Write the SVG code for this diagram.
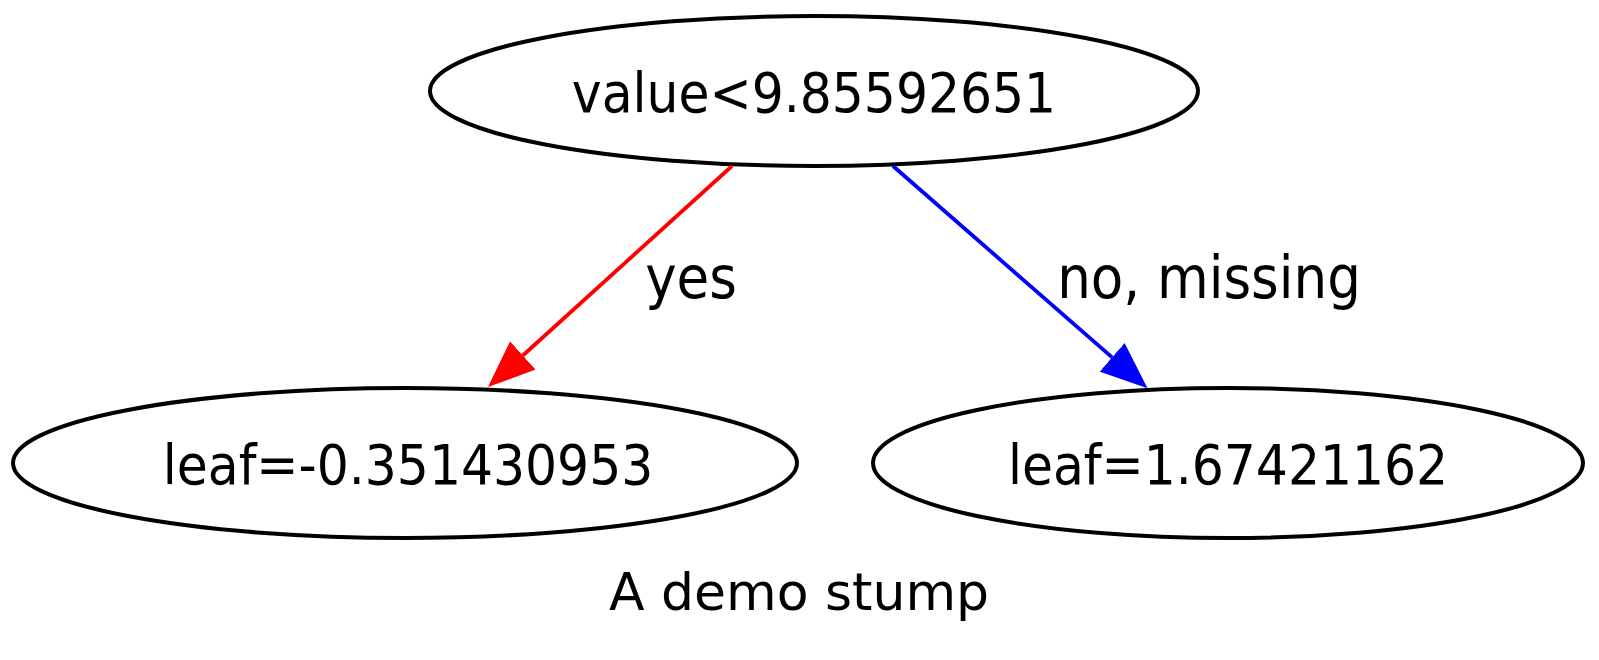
<svg xmlns="http://www.w3.org/2000/svg" width="1599" height="660" viewBox="0 0 1599 660">
<style>
  .node ellipse { fill: none; stroke: #000; stroke-width: 4; }
  .node text { font-family: "DejaVu Sans Condensed", "DejaVu Sans", sans-serif; font-size: 56px; text-anchor: middle; fill: #000; }
  .elabel { font-family: "DejaVu Sans Condensed", "DejaVu Sans", sans-serif; font-size: 59px; text-anchor: middle; fill: #000; }
  .caption { font-family: "DejaVu Sans", sans-serif; font-size: 52px; text-anchor: middle; fill: #000; }
  .edge { fill: none; stroke-width: 3.8; }
</style>
<defs>
  <marker id="arrRed" viewBox="0 0 47 38" refX="0" refY="19" markerWidth="47" markerHeight="38" markerUnits="userSpaceOnUse" orient="auto">
    <path d="M0,0 L47,19 L0,38 Z" fill="#ff0000"/>
  </marker>
  <marker id="arrBlue" viewBox="0 0 47 38" refX="0" refY="19" markerWidth="47" markerHeight="38" markerUnits="userSpaceOnUse" orient="auto">
    <path d="M0,0 L47,19 L0,38 Z" fill="#0000ff"/>
  </marker>
</defs>
<rect width="1599" height="660" fill="#fff"/>
<g id="node0" class="node">
  <ellipse cx="814" cy="91" rx="384" ry="75"/>
  <text x="814" y="112">value&lt;9.85592651</text>
</g>
<g id="node1" class="node">
  <ellipse cx="405" cy="463" rx="392" ry="75"/>
  <text x="408" y="484">leaf=-0.351430953</text>
</g>
<g id="node2" class="node">
  <ellipse cx="1228" cy="463" rx="355" ry="75"/>
  <text x="1228" y="484">leaf=1.67421162</text>
</g>
<g id="edges">
  <path class="edge" stroke="#ff0000" d="M732,166 L522.8,355.5" marker-end="url(#arrRed)"/>
  <text class="elabel" x="691" y="298">yes</text>
  <path class="edge" stroke="#0000ff" d="M893,166 L1112.1,357.4" marker-end="url(#arrBlue)"/>
  <text class="elabel" x="1209" y="298">no, missing</text>
</g>
<text class="caption" x="799" y="610">A demo stump</text>
</svg>
